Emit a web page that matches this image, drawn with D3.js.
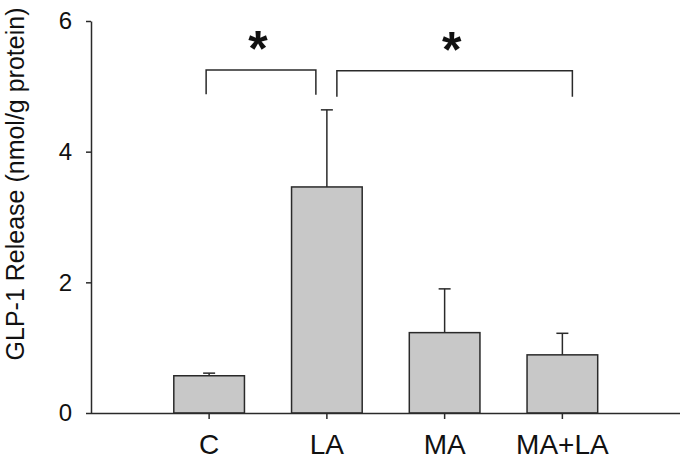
<!DOCTYPE html>
<html><head><meta charset="utf-8">
<script src="https://cdn.jsdelivr.net/npm/d3@7/dist/d3.min.js"></script>
<style>body{margin:0;background:#fff}svg{display:block}text{font-family:"Liberation Sans",Arial,sans-serif;fill:#111}</style>
</head><body><svg id="c" width="680" height="461"></svg>
<script>
const categories = ["C", "LA", "MA", "MA+LA"];
const means = [0.57, 3.46, 1.23, 0.89];
const errors = [0.04, 1.18, 0.67, 0.33];
const yTicks = [0, 2, 4, 6];
const yTitle = "GLP-1 Release (nmol/g protein)";
// significance brackets: [fromIndex, toIndex, top value, left-leg bottom, right-leg bottom]
const brackets = [[0, 1, 5.25, 4.88, 4.87], [1, 3, 5.24, 4.84, 4.84]];
const sigLabel = "*";

const svg = d3.select("#c");
const y = d3.scaleLinear().domain([0, 6]).range([413, 21]);
const x = d3.scaleBand().domain(categories).range([150.25, 621.25]).paddingInner(0.4).paddingOuter(0.2);
const col = "#2a2a2a";

// bars
svg.selectAll("rect.bar").data(categories).enter().append("rect")
  .attr("x", d => x(d)).attr("width", x.bandwidth())
  .attr("y", (d, i) => y(means[i])).attr("height", (d, i) => y(0) - y(means[i]))
  .attr("fill", "#c8c8c8").attr("stroke", col).attr("stroke-width", 1.5);

// error bars (upper only)
const cx = d => x(d) + x.bandwidth() / 2;
svg.selectAll("line.err").data(categories).enter().append("line")
  .attr("x1", cx).attr("x2", cx)
  .attr("y1", (d, i) => y(means[i])).attr("y2", (d, i) => y(means[i] + errors[i]))
  .attr("stroke", col).attr("stroke-width", 1.5);
svg.selectAll("line.cap").data(categories).enter().append("line")
  .attr("x1", d => cx(d) - 6).attr("x2", d => cx(d) + 6)
  .attr("y1", (d, i) => y(means[i] + errors[i])).attr("y2", (d, i) => y(means[i] + errors[i]))
  .attr("stroke", col).attr("stroke-width", 1.5);

// y axis
const ya = svg.append("g").attr("transform", "translate(91,0)")
  .call(d3.axisLeft(y).tickValues(yTicks).tickFormat(d3.format("d")).tickSize(5).tickSizeOuter(0));
ya.select(".domain").attr("stroke", col).attr("stroke-width", 1.5);
ya.selectAll(".tick line").attr("stroke", col).attr("stroke-width", 1.5);
ya.selectAll(".tick text").attr("x", -19).attr("font-size", 24).attr("font-family", null).attr("fill", "#111");

// x axis
const xa = svg.append("g").attr("transform", "translate(0,413)")
  .call(d3.axisBottom(x).tickSize(6).tickSizeOuter(0));
xa.select(".domain").attr("d", "M91,0.5H680").attr("stroke", col).attr("stroke-width", 1.5);
xa.selectAll(".tick line").attr("stroke", col).attr("stroke-width", 1.5);
xa.selectAll(".tick text").attr("y", 21).attr("dy", "0.71em").attr("font-size", 28).attr("font-family", null).attr("fill", "#111");

// y title
svg.append("text").attr("transform", "translate(24,184) rotate(-90)")
  .attr("text-anchor", "middle").attr("font-size", 25).text(yTitle);

// brackets
const offs = [[-3, -11], [10, 10]];
brackets.forEach((b, k) => {
  const x1 = cx(categories[b[0]]) + offs[k][0], x2 = cx(categories[b[1]]) + offs[k][1];
  const p = d3.path();
  p.moveTo(x1, y(b[3])); p.lineTo(x1, y(b[2])); p.lineTo(x2, y(b[2])); p.lineTo(x2, y(b[4]));
  svg.append("path").attr("d", p.toString()).attr("fill", "none").attr("stroke", col).attr("stroke-width", 1.5);
  svg.append("text").attr("x", (x1 + x2) / 2 - 3).attr("y", y(b[2]) - 4).attr("text-anchor", "middle")
    .attr("font-size", 50).attr("font-weight", "bold").text(sigLabel);
});
</script></body></html>
